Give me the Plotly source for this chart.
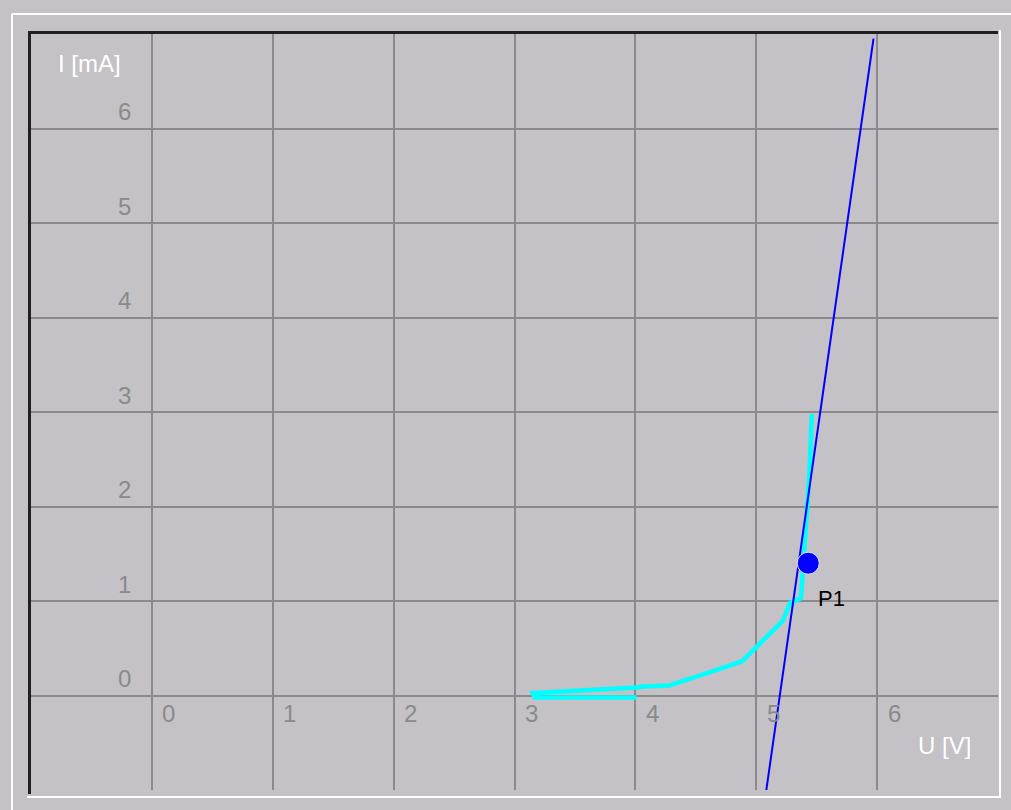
import plotly.graph_objects as go

# Axis ticks (U in volts, I in milliamps)
u_ticks = [0, 1, 2, 3, 4, 5, 6]
i_ticks = [0, 1, 2, 3, 4, 5, 6]

# Measured characteristic (cyan)
curve_u = [4.01, 3.17, 3.15, 3.58, 3.81, 4.01, 4.06, 4.28, 4.53, 4.88, 5.22, 5.28, 5.37, 5.40, 5.44, 5.46]
curve_i = [-0.02, -0.02, 0.025, 0.05, 0.07, 0.085, 0.095, 0.106, 0.21, 0.36, 0.79, 0.98, 1.03, 1.53, 2.35, 2.98]

# Straight line (blue)
line_u = [5.08, 5.97]
line_i = [-1.03, 6.95]

# Operating point
p1_u = [5.43]
p1_i = [1.40]
p1_name = "P1"

BG = "#C4C2C6"
GRID = "#8A8A8A"
TICK = "#8A8A8A"
FONT = "Liberation Sans"

W, H = 1011, 810
ML, MR, MT, MB = 31, 13, 34, 20
PW, PH = W - ML - MR, H - MT - MB


def px(xp):
    return (xp - ML) / PW


def py(yp):
    return (H - MB - yp) / PH


fig = go.Figure()

fig.add_trace(go.Scatter(x=curve_u, y=curve_i, mode="lines",
                         line=dict(color="#00FFFF", width=4.5), hoverinfo="skip"))
fig.add_trace(go.Scatter(x=line_u, y=line_i, mode="lines",
                         line=dict(color="#0000FF", width=2), hoverinfo="skip"))
fig.add_trace(go.Scatter(x=p1_u, y=p1_i, mode="markers",
                         marker=dict(color="#0000FF", size=22,
                                     line=dict(color="#E8E8F0", width=1)),
                         hoverinfo="skip"))

annotations = []
for u in u_ticks:
    annotations.append(dict(x=u, y=0, xref="x", yref="y", text=str(u), showarrow=False,
                            xanchor="center", yanchor="middle", xshift=17, yshift=-18,
                            font=dict(family=FONT, size=24, color=TICK)))
for i in i_ticks:
    annotations.append(dict(x=0, y=i, xref="x", yref="y", text=str(i), showarrow=False,
                            xanchor="right", yanchor="middle", xshift=-19, yshift=17,
                            font=dict(family=FONT, size=24, color=TICK)))
annotations.append(dict(x=-0.52, y=6.69, xref="x", yref="y", text="I [mA]", showarrow=False,
                        xanchor="center", yanchor="middle",
                        font=dict(family=FONT, size=24, color="white")))
annotations.append(dict(x=6.56, y=-0.53, xref="x", yref="y", text="U [V]", showarrow=False,
                        xanchor="center", yanchor="middle",
                        font=dict(family=FONT, size=24, color="white")))
annotations.append(dict(x=p1_u[0], y=p1_i[0], xref="x", yref="y", text=p1_name, showarrow=False,
                        xanchor="center", yanchor="middle", xshift=23, yshift=-35,
                        font=dict(family=FONT, size=22, color="black")))

shapes = [
    # outer highlight
    dict(type="line", xref="paper", yref="paper", x0=px(12), x1=px(W), y0=py(14), y1=py(14),
         line=dict(color="white", width=2)),
    dict(type="line", xref="paper", yref="paper", x0=px(12), x1=px(12), y0=py(14), y1=py(H),
         line=dict(color="white", width=2)),
    # inset panel: dark top/left, light bottom/right
    dict(type="line", xref="paper", yref="paper", x0=px(28), x1=px(998), y0=py(32.5), y1=py(32.5),
         line=dict(color="#202020", width=3)),
    dict(type="line", xref="paper", yref="paper", x0=px(29.5), x1=px(29.5), y0=py(31), y1=py(794),
         line=dict(color="#202020", width=3)),
    dict(type="line", xref="paper", yref="paper", x0=px(27), x1=px(1001), y0=py(797), y1=py(797),
         line=dict(color="white", width=2)),
    dict(type="line", xref="paper", yref="paper", x0=px(1000), x1=px(1000), y0=py(30), y1=py(797),
         line=dict(color="white", width=2)),
]

fig.update_layout(
    width=W, height=H,
    margin=dict(l=ML, r=MR, t=MT, b=MB),
    paper_bgcolor=BG, plot_bgcolor=BG,
    showlegend=False,
    annotations=annotations,
    shapes=shapes,
)
fig.update_xaxes(range=[-1, 7], tickvals=u_ticks, showticklabels=False, ticks="",
                 showgrid=True, gridcolor=GRID, gridwidth=2, zeroline=False, showline=False,
                 fixedrange=True)
fig.update_yaxes(range=[-1, 7], tickvals=i_ticks, showticklabels=False, ticks="",
                 showgrid=True, gridcolor=GRID, gridwidth=2, zeroline=False, showline=False,
                 fixedrange=True)

fig.write_html("out.html")
